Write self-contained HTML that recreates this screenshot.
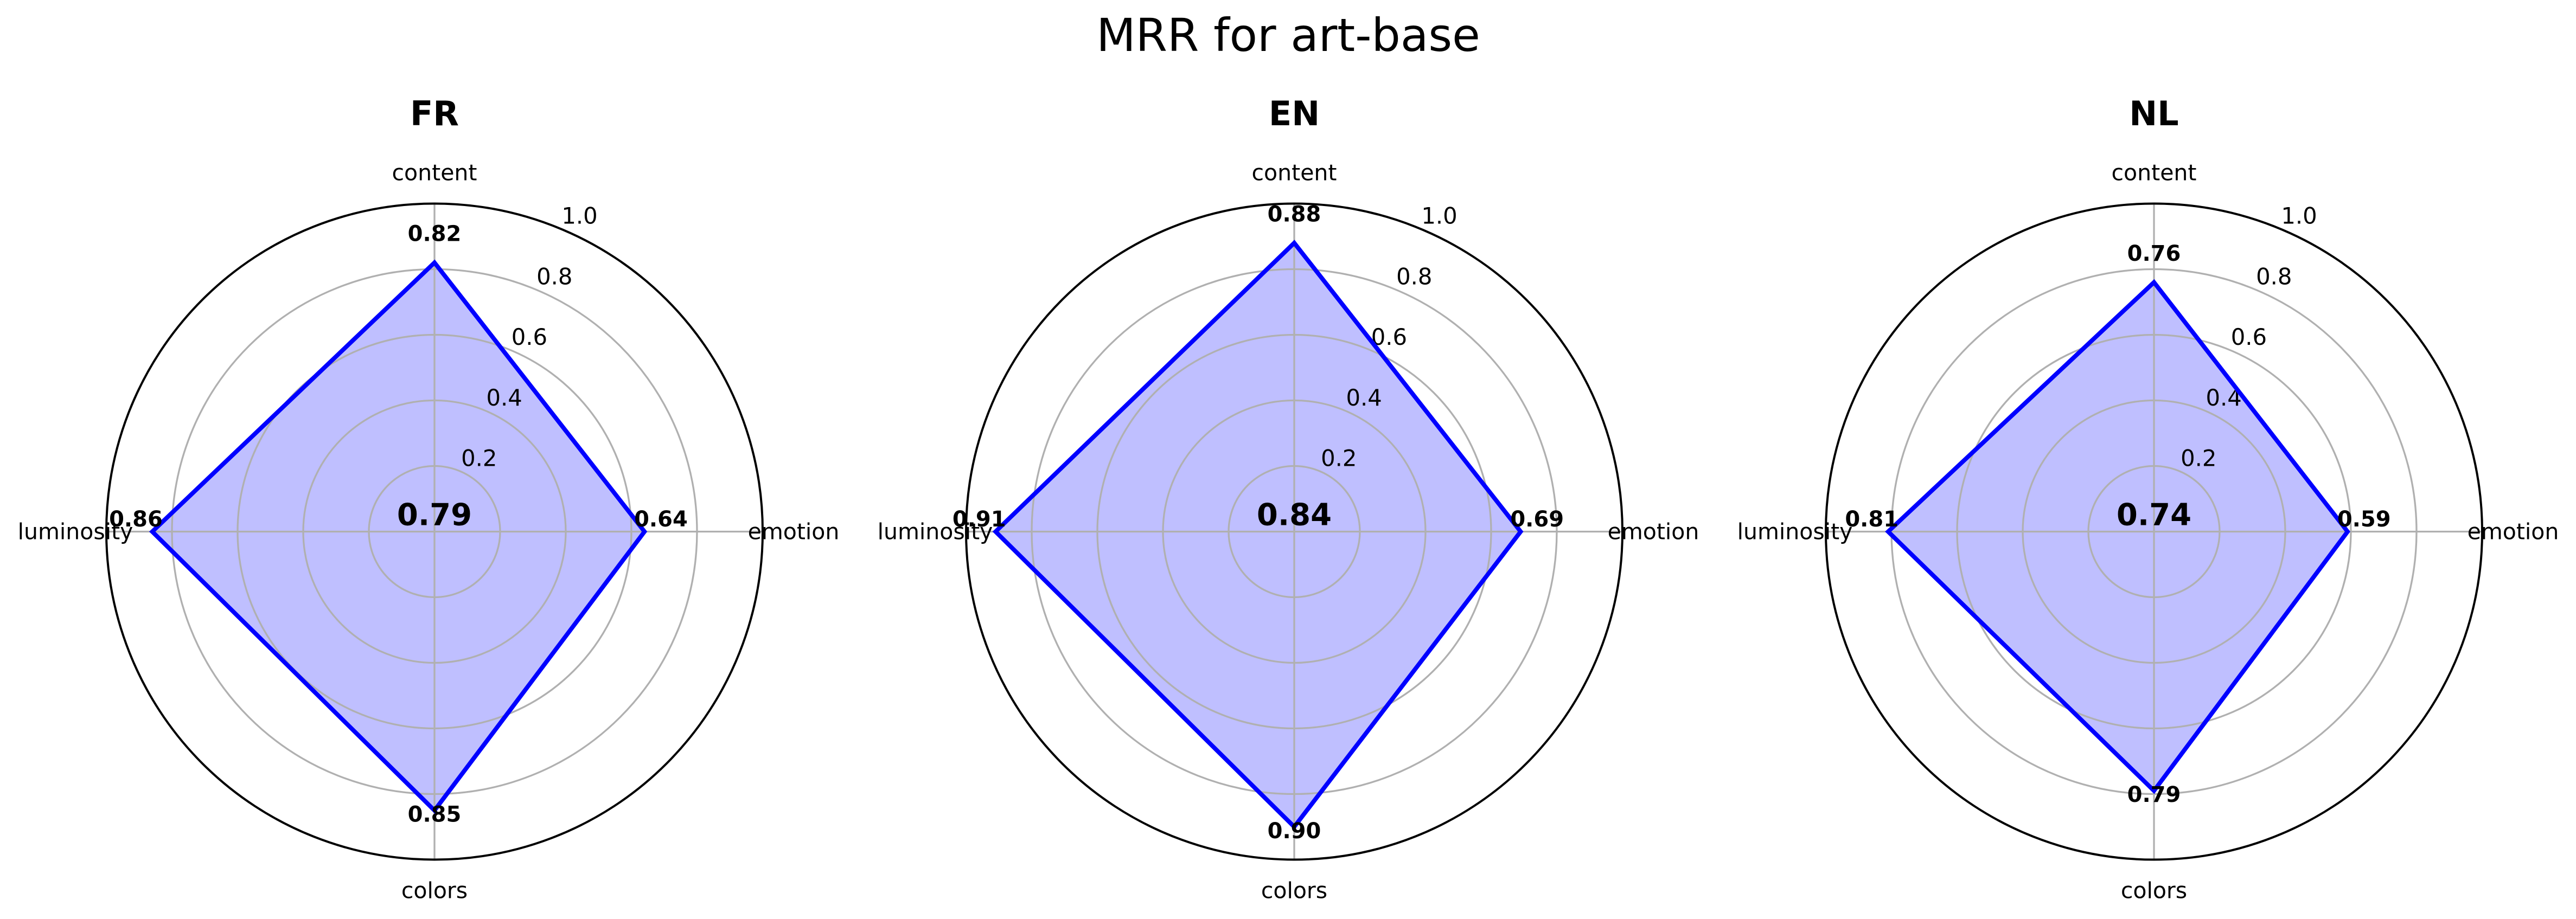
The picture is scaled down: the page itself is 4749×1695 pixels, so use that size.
<!DOCTYPE html>
<html><head><meta charset="utf-8">
<style>
html,body{margin:0;padding:0;background:#fff;}
svg{display:block;font-family:"DejaVu Sans","Liberation Sans",sans-serif;}
</style></head>
<body>
<svg id="chart" width="4749" height="1695" viewBox="0 0 4749 1695" xmlns="http://www.w3.org/2000/svg">
<rect width="4749" height="1695" fill="#fff"/>
<text x="2375" y="94" font-size="84" text-anchor="middle" fill="#000">MRR for art-base</text>
</svg>
<script>
const panels = ["FR", "EN", "NL"];
const categories = ["content", "emotion", "colors", "luminosity"];
const valuesFR = [0.82, 0.64, 0.85, 0.86];
const valuesEN = [0.88, 0.69, 0.90, 0.91];
const valuesNL = [0.76, 0.59, 0.79, 0.81];
const averages = ["0.79", "0.84", "0.74"];
const rTicks = [0.2, 0.4, 0.6, 0.8, 1.0];
const rTickLabels = ["0.2", "0.4", "0.6", "0.8", "1.0"];

const seriesList = [valuesFR, valuesEN, valuesNL];
const centersX = [801, 2386, 3971];
const CY = 980.5, R = 605;
const NS = "http://www.w3.org/2000/svg";
const svg = document.getElementById('chart');

function mk(tag, attrs, parent) {
  const e = document.createElementNS(NS, tag);
  for (const k in attrs) e.setAttribute(k, attrs[k]);
  parent.appendChild(e);
  return e;
}
function angleOf(i) { return -Math.PI / 2 + i * 2 * Math.PI / categories.length; }
function px(cx, r, a) { return cx + r * R * Math.cos(a); }
function py(r, a) { return CY + r * R * Math.sin(a); }

panels.forEach((name, p) => {
  const cx = centersX[p];
  const vals = seriesList[p];
  const g = mk('g', {}, svg);
  
  

  const pts = vals.map((v, i) => px(cx, v, angleOf(i)).toFixed(1) + ',' + py(v, angleOf(i)).toFixed(1)).join(' ');
  // fill first (grid drawn on top)
  const fill = mk('polygon', {points: pts, fill: '#bfbfff', stroke: 'none'}, g);
  
  

  rTicks.forEach((t, k) => {
    if (t >= 1) return;
    const c = mk('circle', {cx: cx, cy: CY, r: t * R, fill: 'none', stroke: '#b0b0b0', 'stroke-width': 3.3}, g);
    
    
  });
  categories.forEach((c, i) => {
    const a = angleOf(i);
    const l = mk('line', {x1: cx, y1: CY, x2: px(cx, 1, a), y2: py(1, a), stroke: '#b0b0b0', 'stroke-width': 3.3}, g);
    
    
  });
  const oc = mk('circle', {cx: cx, cy: CY, r: R, fill: 'none', stroke: '#000', 'stroke-width': 4}, g);
  
  

  const ta = 22.5 * Math.PI / 180;
  rTicks.forEach((t, k) => {
    const x = cx + t * R * Math.sin(ta) + 36;
    const y = CY - t * R * Math.cos(ta) - 24 + 15;
    const tx = mk('text', {x: x, y: y, 'font-size': 41.7, 'text-anchor': 'middle', fill: '#000'}, g);
    tx.textContent = rTickLabels[k];
    
    
  });

  const poly = mk('polygon', {points: pts, fill: 'none', stroke: '#0000ff', 'stroke-width': 8, 'stroke-linejoin': 'miter'}, g);
  
  

  categories.forEach((c, i) => {
    const a = angleOf(i);
    const x = cx + (R + 57) * Math.cos(a);
    const y = CY + (R + 57) * Math.sin(a) + 14;
    const tx = mk('text', {x: x, y: y, 'font-size': 41, 'text-anchor': 'middle', fill: '#000'}, g);
    tx.textContent = c;
    
    
  });

  vals.forEach((v, i) => {
    const a = angleOf(i);
    const x = px(cx, v + 0.05, a);
    const y = py(v + 0.05, a) - 9.5;
    const tx = mk('text', {x: x, y: y, 'font-size': 40, 'font-weight': 'bold', 'text-anchor': 'middle', fill: '#000'}, g);
    tx.textContent = v.toFixed(2);
    
    
  });

  const avg = mk('text', {x: cx, y: CY - 12, 'font-size': 56, 'font-weight': 'bold', 'text-anchor': 'middle', fill: '#000'}, g);
  avg.textContent = averages[p];
  
  

  const tt = mk('text', {x: cx, y: 231, 'font-size': 62, 'font-weight': 'bold', 'text-anchor': 'middle', fill: '#000'}, g);
  tt.textContent = name;
  
  
});
</script>
</body></html>
